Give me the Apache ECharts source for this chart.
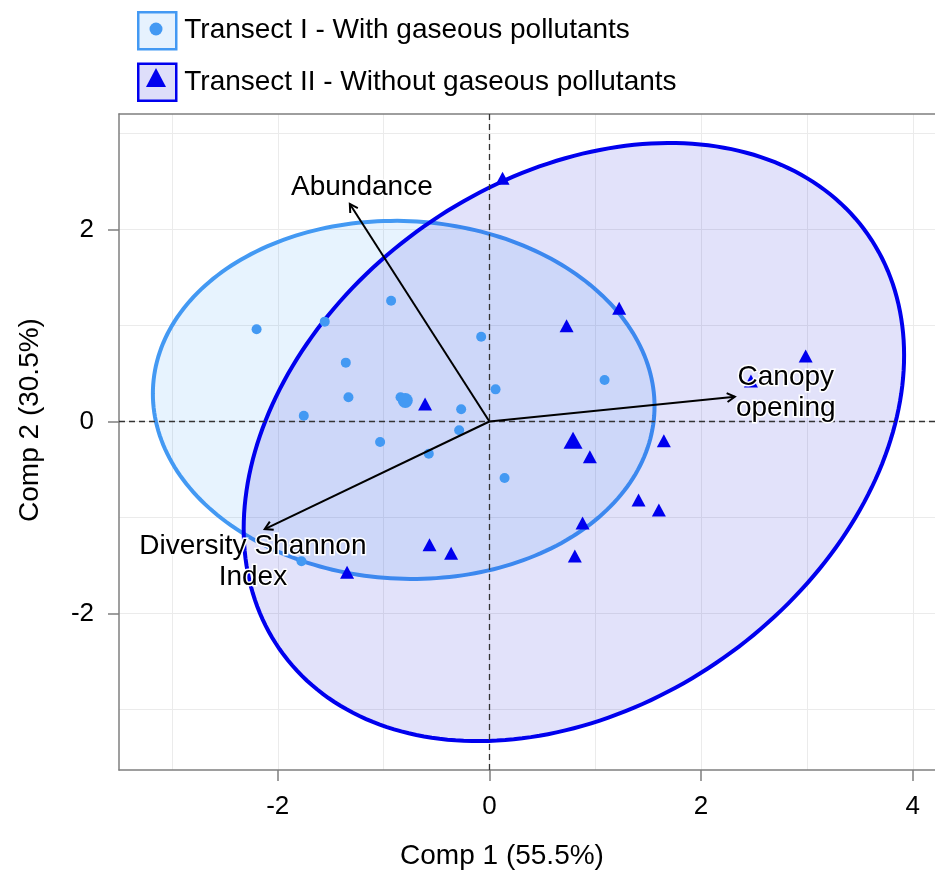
<!DOCTYPE html>
<html><head><meta charset="utf-8">
<script src="https://cdn.jsdelivr.net/npm/echarts@6/dist/echarts.min.js"></script>
<style>html,body{margin:0;padding:0;background:#fff}#c{width:935px;height:875px}</style>
</head><body><div id="c"></div>
<script>
const FF = '"Liberation Sans", Arial, Helvetica, sans-serif';
const groupNames = ['Transect I - With gaseous pollutants', 'Transect II - Without gaseous pollutants'];
const pointNames = ['Transect I points', 'Transect II points'];
// individual scores [Comp1, Comp2]
const transectI = [[-2.20,0.96],[-1.556,1.04],[-0.929,1.258],[-0.078,0.883],[-1.357,0.613],[-1.332,0.252],
  [-0.840,0.252],[0.058,0.335],[-0.267,0.127],[-1.754,0.060],[-0.286,-0.092],[-1.033,-0.214],[-0.573,-0.335],
  [0.143,-0.589],[1.088,0.432],[-1.776,-1.456]];
const transectII = [[0.124,2.533],[1.226,1.179],[0.729,0.998],[2.988,0.682],[2.471,0.422],[-0.608,0.182],
  [1.648,-0.200],[0.949,-0.367],[1.409,-0.818],[1.601,-0.922],[0.880,-1.057],[-0.566,-1.283],[-0.362,-1.373],
  [0.807,-1.401],[-1.345,-1.571]];
const centroidI = [[-0.795,0.219]];
const centroidII = [[0.790,-0.195]];
// ellipse: [centerX, centerY, halfWidthX, halfHeightY, correlation]
const ellipseI = [[-0.81,0.225,2.37,1.865,-0.035]];
const ellipseII = [[0.798,-0.214,3.12,3.115,0.29]];
// variables
const varNames = ['Abundance','Canopy\nopening','Diversity Shannon\nIndex'];
const varArrows = [[-1.319,2.266],[2.319,0.258],[-2.123,-1.120]];
const varLabelPos = [[-1.205,2.443],[2.80,0.297],[-2.235,-1.464]];
// ticks
const xMajorTicks = [-2,0,2,4];
const xMinorTicks = [-3,-1,1,3];
const yMajorTicks = [-2,0,2];
const yMinorTicks = [-3,-1,1,3];

const colI = '#4399f3', colII = '#0000ee';
const fillI = 'rgba(61,155,245,0.12)', fillII = 'rgba(20,20,215,0.12)';
const axisCol = '#7f7f7f', gridCol = '#ebebeb';

function ellipseRender(stroke, fill) {
  return function (params, api) {
    const cx = api.value(0), cy = api.value(1), rx = api.value(2), ry = api.value(3), rho = api.value(4);
    const d = Math.acos(rho);
    const pts = [];
    for (let i = 0; i <= 240; i++) {
      const t = i / 240 * 2 * Math.PI;
      pts.push(api.coord([cx + rx * Math.cos(t), cy + ry * Math.cos(t - d)]));
    }
    return {type: 'polygon', shape: {points: pts}, style: {fill: fill, stroke: stroke, lineWidth: 4}};
  };
}
function arrowRender(params, api) {
  const o = api.coord([0, 0]);
  const p = api.coord([api.value(0), api.value(1)]);
  const ang = Math.atan2(p[1] - o[1], p[0] - o[0]);
  const L = 9, a = Math.PI / 6;
  const h1 = [p[0] - L * Math.cos(ang - a), p[1] - L * Math.sin(ang - a)];
  const h2 = [p[0] - L * Math.cos(ang + a), p[1] - L * Math.sin(ang + a)];
  return {type: 'group', children: [
    {type: 'line', shape: {x1: o[0], y1: o[1], x2: p[0], y2: p[1]}, style: {stroke: '#000', lineWidth: 2}},
    {type: 'polyline', shape: {points: [h1, p, h2]}, style: {stroke: '#000', lineWidth: 2, fill: 'none'}}
  ]};
}
function textRender(params, api) {
  const p = api.coord([api.value(0), api.value(1)]);
  return {type: 'text', x: p[0], y: p[1], style: {
    text: varNames[params.dataIndex], fill: '#000', font: '28px ' + FF, lineHeight: 31,
    align: 'center', verticalAlign: 'middle', stroke: '#fff', lineWidth: 3, strokeFirst: true}};
}

const chart = echarts.init(document.getElementById('c'), null, {renderer: 'canvas'});
chart.setOption({
  animation: false,
  textStyle: {fontFamily: FF},
  grid: {left: 119, right: 0, top: 114, bottom: 105, containLabel: false},
  legend: [
    {orient: 'vertical', left: 137, top: 11, padding: 0, itemWidth: 38, itemHeight: 37, itemGap: 12,
      selectedMode: false, icon: 'rect',
      textStyle: {fontSize: 28, color: '#000', fontFamily: FF, padding: [0, 0, 0, 3]},
      data: [
        {name: groupNames[0], itemStyle: {color: '#e6f2fe', borderColor: colI, borderWidth: 2.5}},
        {name: groupNames[1], itemStyle: {color: '#dedefa', borderColor: colII, borderWidth: 2.5}}
      ]},
    {left: 149.5, top: 22.5, padding: 0, itemWidth: 13, itemHeight: 13, selectedMode: false,
      formatter: () => '', textStyle: {fontSize: 1},
      data: [{name: pointNames[0], icon: 'circle', itemStyle: {color: colI}}]},
    {left: 146, top: 68, padding: 0, itemWidth: 20, itemHeight: 19, selectedMode: false,
      formatter: () => '', textStyle: {fontSize: 1},
      data: [{name: pointNames[1], icon: 'triangle', itemStyle: {color: colII}}]}
  ],
  xAxis: [
    {type: 'value', min: -3.5, max: 4.21, position: 'bottom',
      axisLine: {show: true, onZero: false, lineStyle: {color: axisCol, width: 1.5}},
      axisTick: {show: true, customValues: xMajorTicks, length: 11, lineStyle: {color: axisCol, width: 1.5}},
      axisLabel: {customValues: xMajorTicks, fontSize: 26, color: '#000', margin: 24, fontFamily: FF},
      splitLine: {show: true, lineStyle: {color: gridCol, width: 1}},
      name: 'Comp 1 (55.5%)', nameLocation: 'middle', nameGap: 72,
      nameTextStyle: {fontSize: 28, color: '#000', fontFamily: FF, padding: [0, 50, 0, 0]}},
    {type: 'value', min: -3.5, max: 4.21, position: 'top',
      axisLine: {show: true, onZero: false, lineStyle: {color: axisCol, width: 1.5}},
      axisTick: {show: false, customValues: xMinorTicks},
      axisLabel: {show: false, customValues: xMinorTicks},
      splitLine: {show: true, lineStyle: {color: gridCol, width: 1}}}
  ],
  yAxis: [
    {type: 'value', min: -3.63, max: 3.203, position: 'left',
      axisLine: {show: true, onZero: false, lineStyle: {color: axisCol, width: 1.5}},
      axisTick: {show: true, customValues: yMajorTicks, length: 11, lineStyle: {color: axisCol, width: 1.5}},
      axisLabel: {customValues: yMajorTicks, fontSize: 26, color: '#000', margin: 25, fontFamily: FF},
      splitLine: {show: true, lineStyle: {color: gridCol, width: 1}},
      name: 'Comp 2 (30.5%)', nameLocation: 'middle', nameGap: 75, nameRotate: 90,
      nameTextStyle: {fontSize: 28, color: '#000', fontFamily: FF, padding: [0, 0, 0, 44]}},
    {type: 'value', min: -3.63, max: 3.203, position: 'right',
      axisLine: {show: false},
      axisTick: {show: false, customValues: yMinorTicks},
      axisLabel: {show: false, customValues: yMinorTicks},
      splitLine: {show: true, lineStyle: {color: gridCol, width: 1}}}
  ],
  series: [
    {name: groupNames[0], type: 'custom', xAxisIndex: 0, yAxisIndex: 0, z: 2, silent: true,
      renderItem: ellipseRender(colI, fillI), encode: {x: 0, y: 1}, data: ellipseI,
      itemStyle: {color: '#e6f2fe'}},
    {name: groupNames[1], type: 'custom', xAxisIndex: 0, yAxisIndex: 0, z: 3, silent: true,
      renderItem: ellipseRender(colII, fillII), encode: {x: 0, y: 1}, data: ellipseII,
      itemStyle: {color: '#dedefa'}},
    {name: 'zero lines', type: 'line', data: [], z: 4, silent: true,
      markLine: {silent: true, symbol: ['none', 'none'], label: {show: false},
        lineStyle: {color: '#333', type: [6, 4], width: 1.3},
        data: [{xAxis: 0}, {yAxis: 0}]}},
    {name: pointNames[0], type: 'scatter', z: 5, symbol: 'circle', symbolSize: 10,
      itemStyle: {color: colI, opacity: 1}, data: transectI},
    {name: 'centroid I', type: 'scatter', z: 5, symbol: 'circle', symbolSize: 15,
      itemStyle: {color: colI, opacity: 1}, data: centroidI},
    {name: pointNames[1], type: 'scatter', z: 5, symbol: 'triangle', symbolSize: [14, 13],
      itemStyle: {color: colII, opacity: 1}, data: transectII},
    {name: 'centroid II', type: 'scatter', z: 5, symbol: 'triangle', symbolSize: [19, 17],
      itemStyle: {color: colII, opacity: 1}, data: centroidII},
    {name: 'variables', type: 'custom', z: 6, silent: true, renderItem: arrowRender,
      encode: {x: 0, y: 1}, data: varArrows},
    {name: 'variable labels', type: 'custom', z: 7, silent: true, renderItem: textRender,
      encode: {x: 0, y: 1}, data: varLabelPos}
  ]
});
</script></body></html>
